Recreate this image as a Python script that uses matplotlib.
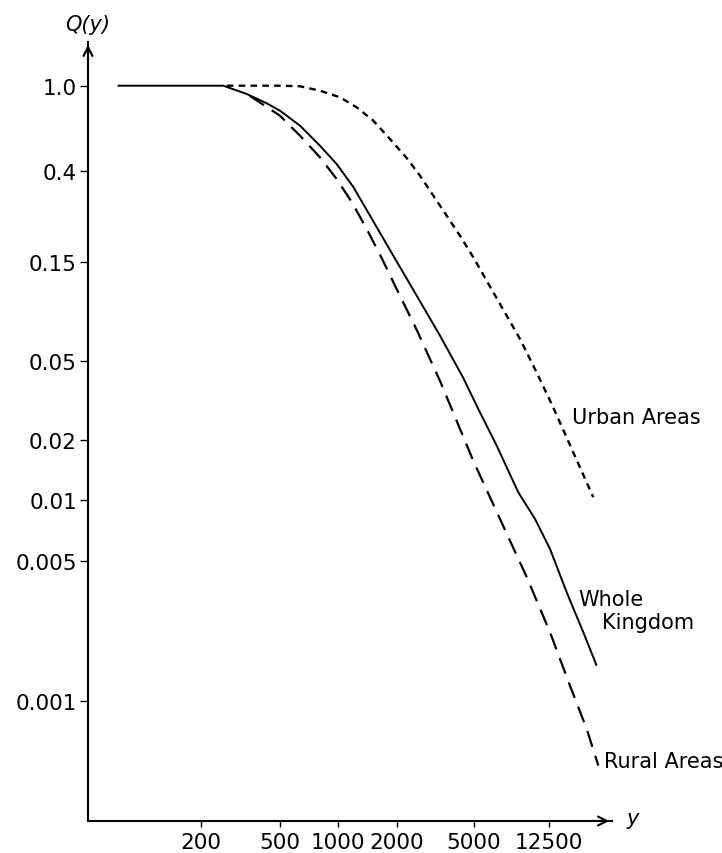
import numpy as np
import matplotlib
matplotlib.use("Agg")
import matplotlib.pyplot as plt

# Values (y = income, Q(y) = share above y).
whole_x = [76, 259, 340, 429, 500, 635, 806, 984, 1197, 1457, 1915, 2529,
           3337, 4403, 5270, 6598, 8590, 10540, 12660, 15520, 19010, 22390]
whole_q = [1.0, 1.0, 0.915, 0.828, 0.765, 0.652, 0.526, 0.4324, 0.3378,
           0.2478, 0.161, 0.1033, 0.0661, 0.04094, 0.0286, 0.01873, 0.01093,
           0.00805, 0.00571, 0.003476, 0.002195, 0.001495]

rural_x = [353, 500, 635, 806, 984, 1175, 1401, 1671, 1954, 2529, 3337, 4961,
           6868, 9520, 12660, 16160, 19820, 22840]
rural_q = [0.896, 0.725, 0.5855, 0.4646, 0.368, 0.2873, 0.2148, 0.1571,
           0.1155, 0.0705, 0.03956, 0.0157, 0.00805, 0.004145, 0.002195,
           0.001188, 0.000722, 0.000474]

urban_x = [270, 500, 635, 806, 1024, 1246, 1514, 1842, 2245, 2630, 3082, 3614,
           4233, 4961, 6330, 7457, 8770, 10320, 12920, 16830, 21480]
urban_q = [1.0, 1.0, 0.994, 0.948, 0.883, 0.793, 0.688, 0.565, 0.4611, 0.3815,
           0.3075, 0.2478, 0.1998, 0.1582, 0.1073, 0.0826, 0.0637, 0.0472,
           0.0303, 0.0173, 0.01032]

x_ticks = [200, 500, 1000, 2000, 5000, 12500]
x_tick_labels = ["200", "500", "1000", "2000", "5000", "12500"]
y_ticks = [1.0, 0.4, 0.15, 0.05, 0.02, 0.01, 0.005, 0.001]
y_tick_labels = ["1.0", "0.4", "0.15", "0.05", "0.02", "0.01", "0.005", "0.001"]

# The printed axes are only roughly logarithmic, so the scale is calibrated
# on where each tick sits in the original figure (pixels).
W, H = 722, 854
x_tick_px = [201, 280, 338, 397, 474, 549]
y_tick_px = [86.7, 172.3, 263.3, 361.7, 441, 501, 561.7, 701.7]


def extrap(v, xp, fp):
    v = np.asarray(v, float)
    out = np.interp(v, xp, fp)
    lo = (fp[1] - fp[0]) / (xp[1] - xp[0])
    hi = (fp[-1] - fp[-2]) / (xp[-1] - xp[-2])
    out = np.where(v < xp[0], fp[0] + (v - xp[0]) * lo, out)
    out = np.where(v > xp[-1], fp[-1] + (v - xp[-1]) * hi, out)
    return out


def make_scale(ticks, px, flip):
    lt = np.log10(ticks)
    p = -np.asarray(px, float) if flip else np.asarray(px, float)
    order = np.argsort(lt)
    lt, p = lt[order], p[order]

    def fwd(v):
        v = np.asarray(v, float)
        with np.errstate(divide="ignore", invalid="ignore"):
            lv = np.log10(np.where(v > 0, v, np.nan))
        return extrap(lv, lt, p)

    def inv(q):
        return 10 ** extrap(q, p, lt)

    return fwd, inv


fx, ix = make_scale(x_ticks, x_tick_px, False)
fy, iy = make_scale(y_ticks, y_tick_px, True)

plt.rcParams["font.family"] = "DejaVu Sans"

fig = plt.figure(figsize=(W / 100, H / 100), dpi=100)
left_px, right_px, top_px, bottom_px = 88, 612, 43, 822
ax = fig.add_axes([left_px / W, 1 - bottom_px / H,
                   (right_px - left_px) / W, (bottom_px - top_px) / H])
ax.set_xscale("function", functions=(fx, ix))
ax.set_yscale("function", functions=(fy, iy))
ax.set_xlim(float(ix(left_px)), float(ix(right_px)))
ax.set_ylim(float(iy(-bottom_px)), float(iy(-top_px)))

ax.plot(whole_x, whole_q, color="black", lw=1.4, solid_capstyle="butt",
        solid_joinstyle="round")
ax.plot(rural_x, rural_q, color="black", lw=1.6, linestyle=(0, (7.5, 4.2)))
ax.plot(urban_x, urban_q, color="black", lw=1.7, linestyle=(0, (2.8, 2.2)))

ax.set_xticks(x_ticks)
ax.set_xticklabels(x_tick_labels)
ax.set_yticks(y_ticks)
ax.set_yticklabels(y_tick_labels)
ax.minorticks_off()
ax.tick_params(axis="x", direction="out", length=4, width=1, pad=4,
               labelsize=15.5)
ax.tick_params(axis="y", direction="out", length=6, width=1, pad=2,
               labelsize=15.5)

for side in ["top", "right"]:
    ax.spines[side].set_visible(False)
for side in ["left", "bottom"]:
    ax.spines[side].set_linewidth(1.5)

# Arrow heads on both axes.
ax.annotate("", xy=(0, 1), xytext=(0, 0.97), xycoords="axes fraction",
            arrowprops=dict(arrowstyle="->", lw=1.5, color="black",
                            mutation_scale=16))
ax.annotate("", xy=(1, 0), xytext=(0.96, 0), xycoords="axes fraction",
            arrowprops=dict(arrowstyle="->", lw=1.5, color="black",
                            mutation_scale=16))

# Axis names and curve labels.
fig.text(88 / W, 1 - 25 / H, "Q(y)", ha="center", va="center",
         fontsize=15, style="italic")
fig.text(627 / W, 1 - 819 / H, "y", ha="left", va="center",
         fontsize=15, style="italic")
fig.text(572 / W, 1 - 418 / H, "Urban Areas", ha="left", va="center",
         fontsize=15)
fig.text(578 / W, 1 - 600 / H, "Whole", ha="left", va="center", fontsize=15)
fig.text(602 / W, 1 - 623 / H, "Kingdom", ha="left", va="center", fontsize=15)
fig.text(604 / W, 1 - 762 / H, "Rural Areas", ha="left", va="center",
         fontsize=15)

fig.savefig("out.png", dpi=100)
